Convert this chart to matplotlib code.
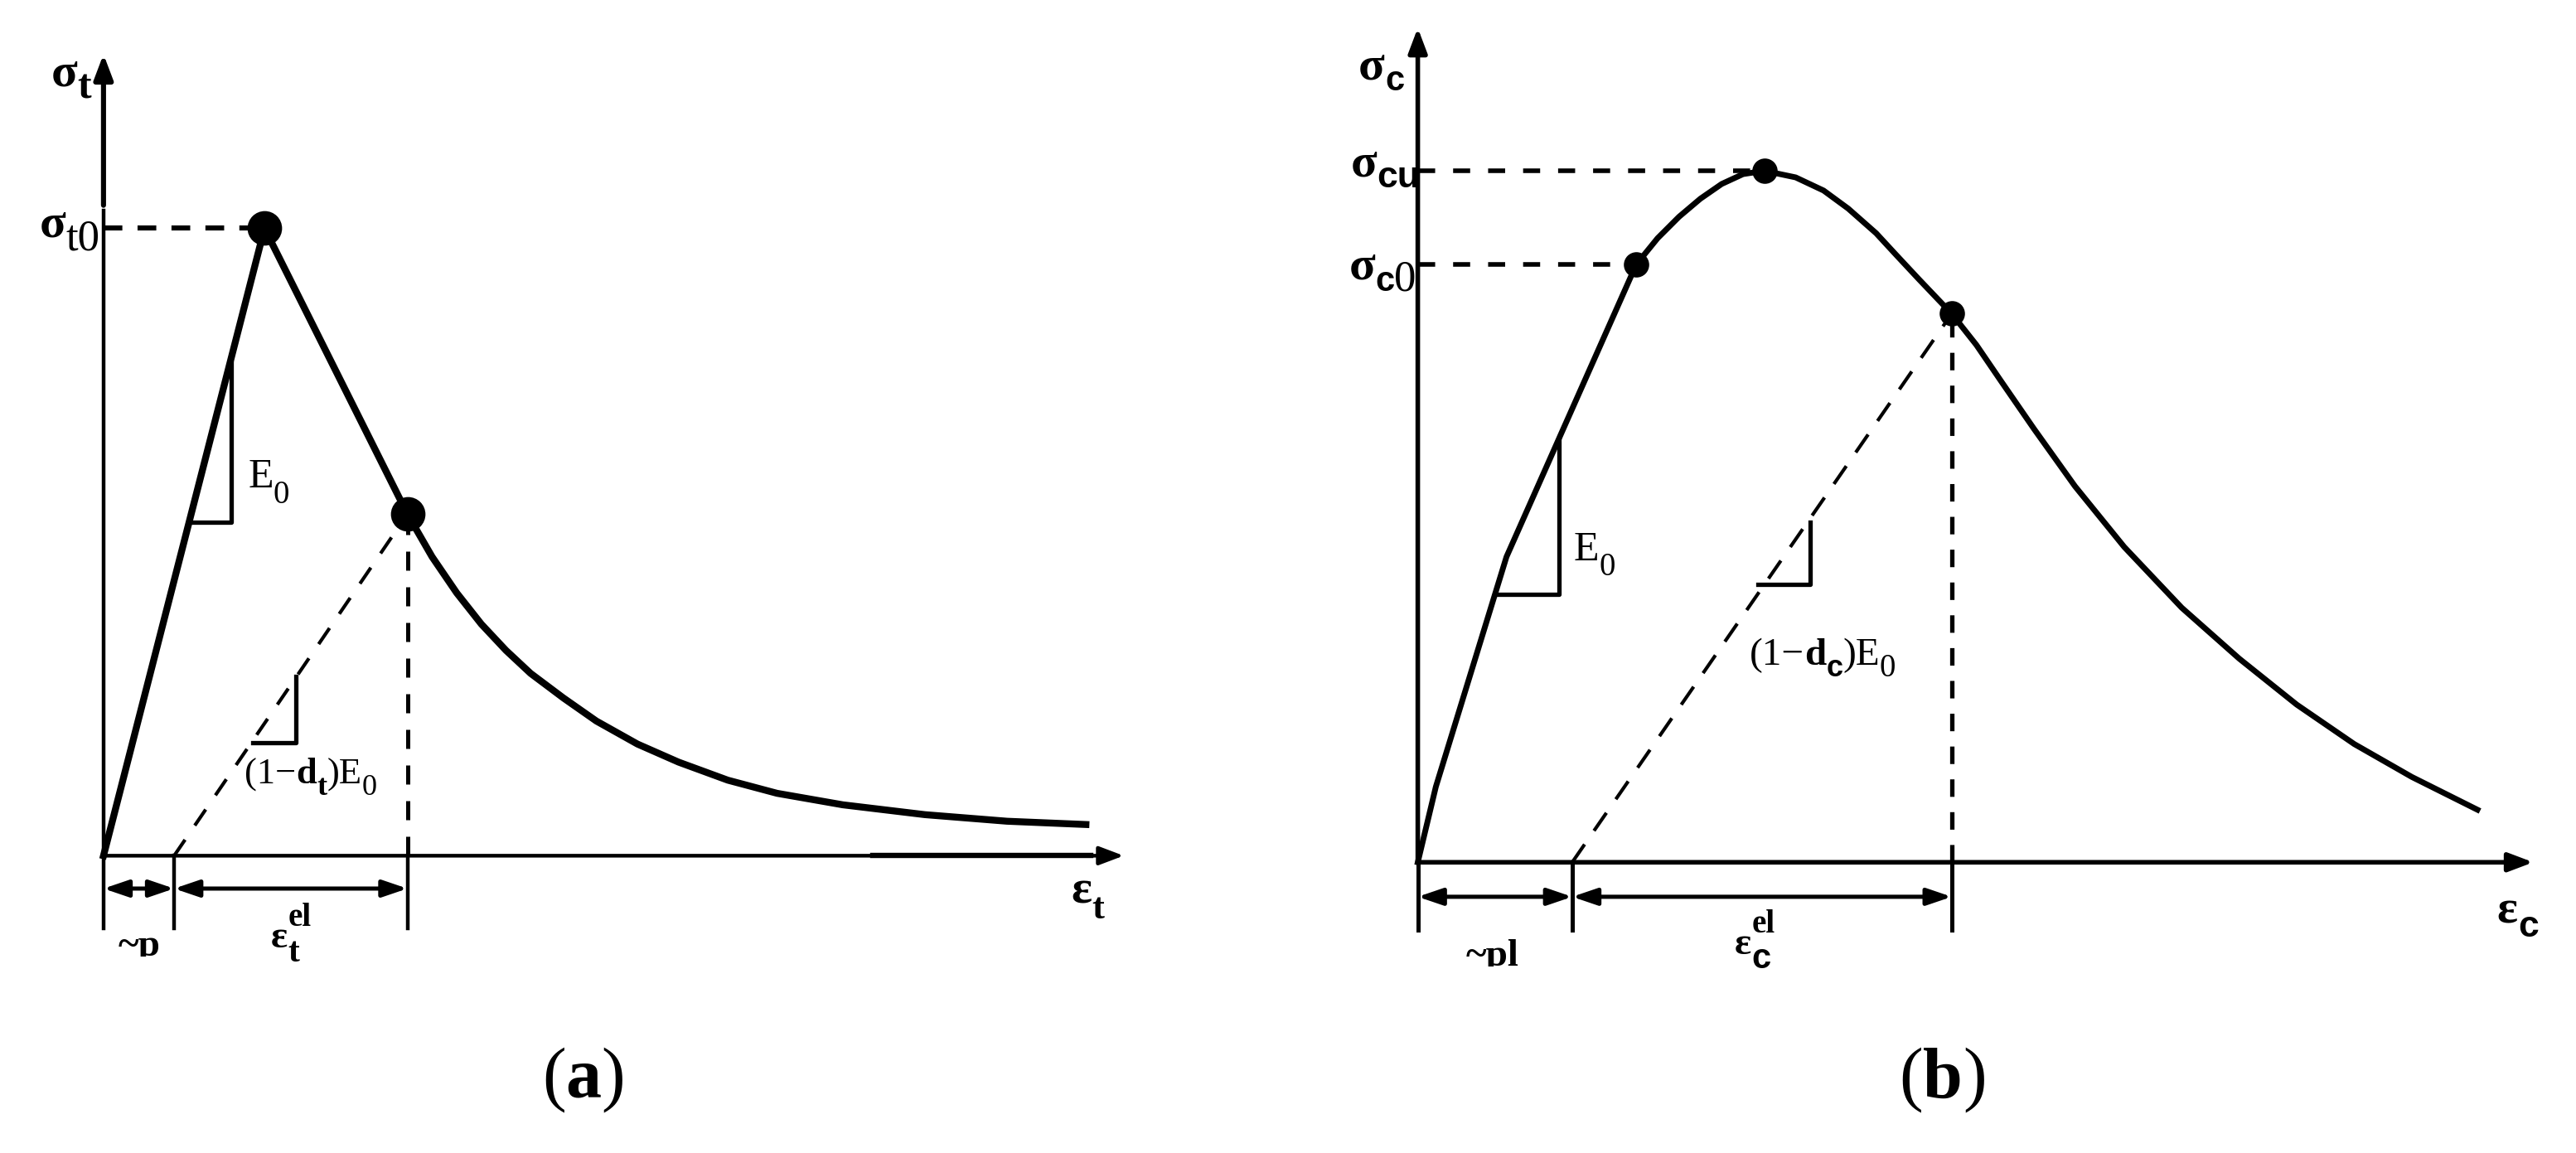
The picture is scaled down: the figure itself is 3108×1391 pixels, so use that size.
import matplotlib
matplotlib.use("Agg")
import matplotlib.pyplot as plt
from matplotlib.transforms import Bbox, TransformedBbox

# --------------------------------------------------
# 1. Values (arbitrary strain / stress units)
# --------------------------------------------------
# (a) uniaxial tension
t_curve_eps = [0, 98, 185, 200, 215, 230, 245, 260, 280, 300, 325, 350, 380,
               410, 450, 500, 550, 598]
t_curve_sig = [0, 382, 208, 182, 160, 141, 125, 111, 96, 82, 68, 57, 46,
               38, 31, 25, 21, 19]
t_pts_eps = [98, 185]           # sigma_t0 and unloading point
t_pts_sig = [382, 208]
t_eps_pl = 43                   # residual strain after unloading
t_tri1_eps = [53, 78, 78]       # E0 slope marker
t_tri1_sig = [203, 203, 300]
t_tri2_eps = [91, 117, 117]     # (1-dt)E0 slope marker
t_tri2_sig = [69, 69, 109]
t_axes_len = [621, 488]

# (b) uniaxial compression
c_curve_eps = [0, 11, 54, 133, 146, 159, 172, 185, 198, 211, 230, 247, 262, 279, 291,
               305, 325, 340, 355, 375, 400, 430, 465, 500, 535, 570, 605, 645]
c_curve_sig = [0, 46, 186, 364, 380, 393, 404, 413, 419, 421, 417, 409, 398, 383, 370,
               355, 334, 315, 293, 264, 229, 192, 155, 124, 96, 72, 52, 32]
c_pts_eps = [133, 211, 325]     # sigma_c0, sigma_cu, unloading point
c_pts_sig = [364, 421, 334]
c_eps_pl = 94
c_tri1_eps = [47, 86, 86]
c_tri1_sig = [163, 163, 258]
c_tri2_eps = [207, 239, 239]
c_tri2_sig = [169, 169, 207]
c_axes_len = [679, 508]

STYLES = {"rm": ("Liberation Serif", "normal"),
          "bf": ("Liberation Serif", "bold"),
          "sf": ("Liberation Sans", "bold")}


def rich(ax, x, y, parts, clip_y=None):
    # parts: (text, style, size, dy in points); dy > 0 -> superscript over last base
    base = prev = None
    out = []
    for text, style, size, dy in parts:
        fam, weight = STYLES[style]
        anchor = base if dy > 0 else prev
        if anchor is None:
            xy, xyc = (x, y), "data"
        else:
            xy, xyc = (1, y), (anchor, "data")
        art = ax.annotate(text, xy=xy, xycoords=xyc, xytext=(0, dy),
                          textcoords="offset points", fontsize=size,
                          family=fam, fontweight=weight, ha="left", va="baseline",
                          annotation_clip=False)
        if dy == 0:
            base = art
        prev = art
        out.append(art)
    if clip_y is not None:
        box = TransformedBbox(Bbox.from_extents(x - 50, clip_y, x + 200, clip_y + 200),
                              ax.transData)
        for art in out:
            art.set_clip_on(True)
            art.set_clip_box(box)


def arrow(ax, p0, p1, style, lw, ms):
    ax.annotate("", xy=p1, xytext=p0,
                arrowprops=dict(arrowstyle=style, color="k", lw=lw,
                                mutation_scale=ms, shrinkA=0, shrinkB=0))


fig = plt.figure(figsize=(15.54, 6.955), dpi=200)
axa = fig.add_axes([0, 0, 0.5, 1])
axa.set_xlim(-63, 721)
axa.set_ylim(-181, 521)
axb = fig.add_axes([0.5, 0, 0.5, 1])
axb.set_xlim(-79, 705)
axb.set_ylim(-177, 525)
for ax in (axa, axb):
    ax.set_axis_off()

head = "-|>,head_length=0.45,head_width=0.17"
dim = "<|-|>,head_length=0.5,head_width=0.17"

# --------------------------------------------------
# 2. Panel (a)
# --------------------------------------------------
ax = axa
arrow(ax, (0, 0), (t_axes_len[0], 0), head, 1.6, 20)
ax.plot([468, t_axes_len[0] - 20], [0, 0], color="k", lw=2.3)
ax.plot([0, 0], [0, t_pts_sig[0] + 11], color="k", lw=1.6)
arrow(ax, (0, t_pts_sig[0] + 14), (0, t_axes_len[1]), head, 2.2, 20)

ax.plot(t_curve_eps, t_curve_sig, color="k", lw=3.0, solid_joinstyle="round")
ax.plot(t_pts_eps, t_pts_sig, "o", color="k", ms=14)

ax.plot([0, t_pts_eps[0]], [t_pts_sig[0]] * 2, color="k", lw=2.2, dashes=(3.7, 3))
ax.plot([t_eps_pl, t_pts_eps[1]], [0, t_pts_sig[1]], color="k", lw=1.5, dashes=(5.6, 5))
ax.plot([t_pts_eps[1]] * 2, [0, t_pts_sig[1]], color="k", lw=1.8, dashes=(4.6, 4))

ax.plot(t_tri1_eps, t_tri1_sig, color="k", lw=1.9)
ax.plot(t_tri2_eps, t_tri2_sig, color="k", lw=1.9)

for xv in [0, t_eps_pl, t_pts_eps[1]]:
    ax.plot([xv, xv], [0, -44], color="k", lw=1.6)
arrow(ax, (0, -20), (t_eps_pl, -20), dim, 1.8, 18)
arrow(ax, (t_eps_pl, -20), (t_pts_eps[1], -20), dim, 1.8, 18)

rich(ax, -32, 469, [("σ", "bf", 21, 0), ("t", "bf", 18, -5.5)])
rich(ax, -39, 377, [("σ", "bf", 21, 0), ("t0", "rm", 19, -6)])
rich(ax, 88, 224, [("E", "rm", 18, 0), ("0", "rm", 14, -6.5)])
rich(ax, 86, 44, [("(1\u2212", "rm", 16, 0), ("d", "bf", 16, 0), ("t", "bf", 13, -5),
                  (")E", "rm", 16, 0), ("0", "rm", 13, -5)])
rich(ax, 589, -29, [("ε", "bf", 21, 0), ("t", "bf", 16, -6.5)])
rich(ax, 102, -56, [("ε", "bf", 17, 0), ("t", "bf", 15, -6), ("el", "bf", 14, 9.5)])
rich(ax, 9, -61, [("~p", "bf", 17, 0)], clip_y=-61.5)
rich(ax, 267, -147, [("(", "rm", 31, 0), ("a", "bf", 31, 0), (")", "rm", 31, 0)])

# --------------------------------------------------
# 3. Panel (b)
# --------------------------------------------------
ax = axb
arrow(ax, (0, 0), (c_axes_len[0], 0), head, 2.0, 20)
arrow(ax, (0, 0), (0, c_axes_len[1]), head, 2.0, 20)

ax.plot(c_curve_eps, c_curve_sig, color="k", lw=2.5, solid_joinstyle="round")
ax.plot(c_pts_eps, c_pts_sig, "o", color="k", ms=10)

ax.plot([0, c_pts_eps[1]], [c_pts_sig[1]] * 2, color="k", lw=2.0, dashes=(3.7, 3.9))
ax.plot([0, c_pts_eps[0]], [c_pts_sig[0]] * 2, color="k", lw=2.0, dashes=(3.7, 3.9))
ax.plot([c_eps_pl, c_pts_eps[2]], [0, c_pts_sig[2]], color="k", lw=1.5, dashes=(6.3, 4.8))
ax.plot([c_pts_eps[2]] * 2, [0, c_pts_sig[2]], color="k", lw=1.9, dashes=(4, 3.5))

ax.plot(c_tri1_eps, c_tri1_sig, color="k", lw=1.9)
ax.plot(c_tri2_eps, c_tri2_sig, color="k", lw=1.9)

for xv in [0, c_eps_pl, c_pts_eps[2]]:
    ax.plot([xv, xv], [0, -41], color="k", lw=1.8)
arrow(ax, (0, -21), (c_eps_pl, -21), dim, 1.8, 18)
arrow(ax, (c_eps_pl, -21), (c_pts_eps[2], -21), dim, 1.8, 18)

rich(ax, -36, 477, [("σ", "bf", 21, 0), ("c", "sf", 15, -5)])
rich(ax, -41, 418, [("σ", "bf", 21, 0), ("cu", "sf", 16, -5)])
rich(ax, -42, 355, [("σ", "bf", 21, 0), ("c", "sf", 15, -5), ("0", "rm", 19, -5)])
rich(ax, 95, 184, [("E", "rm", 18, 0), ("0", "rm", 14, -6.5)])
rich(ax, 202, 120, [("(1\u2212", "rm", 17, 0), ("d", "bf", 17, 0), ("c", "sf", 13, -5),
                    (")E", "rm", 17, 0), ("0", "rm", 14, -5)])
rich(ax, 657, -37, [("ε", "bf", 21, 0), ("c", "sf", 16, -6)])
rich(ax, 193, -56, [("ε", "bf", 17, 0), ("c", "sf", 15, -6), ("el", "bf", 14, 9.5)])
rich(ax, 29.5, -63, [("~pl", "bf", 17, 0)], clip_y=-63.5)
rich(ax, 293, -143, [("(", "rm", 31, 0), ("b", "bf", 31, 0), (")", "rm", 31, 0)])

fig.savefig("out.png", dpi=200, facecolor="white")
